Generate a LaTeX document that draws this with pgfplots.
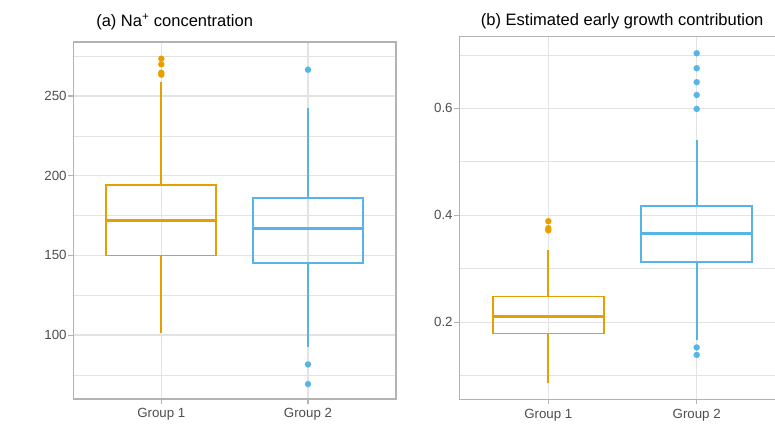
\documentclass[border=0pt]{standalone}
\usepackage{fontspec}
\setmainfont{Liberation Sans}
\usepackage{pgfplots}
\pgfplotsset{compat=1.18}
\definecolor{cA}{HTML}{E69F00}
\definecolor{cB}{HTML}{56B4E9}
\definecolor{gridc}{HTML}{E3E3E3}
\definecolor{framec}{HTML}{B3B3B3}
\definecolor{labc}{HTML}{4D4D4D}
\pgfplotsset{
  mystyle/.style={
    scale only axis,
    anchor=south west,
    axis line style={draw=framec, line width=1.2pt},
    tick style={color=framec, line width=1.1pt},
    major tick length=5pt,
    minor tick length=0pt,
    tick align=outside,
    xtick pos=bottom, ytick pos=left,
    grid=both,
    major grid style={color=gridc, line width=1.3pt},
    minor grid style={color=gridc, line width=0.7pt},
    xmin=0.4, xmax=2.6,
    xtick={1,2}, xticklabels={Group 1, Group 2},
    ticklabel style={font=\fontsize{13.3}{16}\selectfont, text=labc, inner sep=1.5pt},
    xticklabel style={yshift=-3pt},
    /pgf/number format/assume math mode=true,
    title style={font=\fontsize{16.5}{20}\selectfont, anchor=base, yshift=-6pt},
  },
  ln/.style={draw=#1, line width=1.7pt, no markers},
  md/.style={draw=#1, line width=3.2pt, no markers},
  ol/.style={only marks, mark=*, mark size=3.1pt, mark options={fill=#1, draw=#1, line width=0.1pt}},
}
\begin{document}
\begin{tikzpicture}
\begin{axis}[mystyle, width=322.7pt, height=357pt, at={(73.3pt,45pt)},
  ymin=59.9, ymax=283.9,
  ytick={100,150,200,250}, minor ytick={75,125,175,225,275},
  title={(a) Na\textsuperscript{+} concentration},
  title style={at={(0.314,1.0434)}}]
% Group 1: whiskers 101/259, quartiles 150/194, median 172
\addplot[ln=cA] coordinates {(1,101) (1,150)};
\addplot[ln=cA] coordinates {(1,194) (1,259)};
\addplot[ln=cA] coordinates {(0.625,150) (1.375,150) (1.375,194) (0.625,194)} -- cycle;
\addplot[md=cA] coordinates {(0.625,172) (1.375,172)};
\addplot[ol=cA] coordinates {(1,263.4) (1,264.6) (1,269.9) (1,273.4)};
% Group 2: whiskers 92.7/242.5, quartiles 145.4/186, median 167
\addplot[ln=cB] coordinates {(2,92.7) (2,145.4)};
\addplot[ln=cB] coordinates {(2,186) (2,242.5)};
\addplot[ln=cB] coordinates {(1.625,145.4) (2.375,145.4) (2.375,186) (1.625,186)} -- cycle;
\addplot[md=cB] coordinates {(1.625,167) (2.375,167)};
\addplot[ol=cB] coordinates {(2,266.5) (2,81.6) (2,69.3)};
\end{axis}
\begin{axis}[mystyle, width=326.4pt, height=362.6pt, at={(459.3pt,44.7pt)},
  ymin=0.056, ymax=0.734,
  ytick={0.2,0.4,0.6}, yticklabels={0.2,0.4,0.6}, minor ytick={0.1,0.3,0.5,0.7},
  title={(b) Estimated early growth contribution},
  title style={at={(0.499,1.0309)}}]
% Group 1
\addplot[ln=cA] coordinates {(1,0.086) (1,0.179)};
\addplot[ln=cA] coordinates {(1,0.248) (1,0.335)};
\addplot[ln=cA] coordinates {(0.625,0.179) (1.375,0.179) (1.375,0.248) (0.625,0.248)} -- cycle;
\addplot[md=cA] coordinates {(0.625,0.211) (1.375,0.211)};
\addplot[ol=cA] coordinates {(1,0.389) (1,0.376) (1,0.372)};
% Group 2
\addplot[ln=cB] coordinates {(2,0.167) (2,0.313)};
\addplot[ln=cB] coordinates {(2,0.418) (2,0.541)};
\addplot[ln=cB] coordinates {(1.625,0.313) (2.375,0.313) (2.375,0.418) (1.625,0.418)} -- cycle;
\addplot[md=cB] coordinates {(1.625,0.366) (2.375,0.366)};
\addplot[ol=cB] coordinates {(2,0.703) (2,0.675) (2,0.649) (2,0.625) (2,0.599) (2,0.153) (2,0.139)};
\end{axis}
\pgfresetboundingbox
\path[use as bounding box] (0pt,0pt) rectangle (775pt,444pt);
\end{tikzpicture}
\end{document}
